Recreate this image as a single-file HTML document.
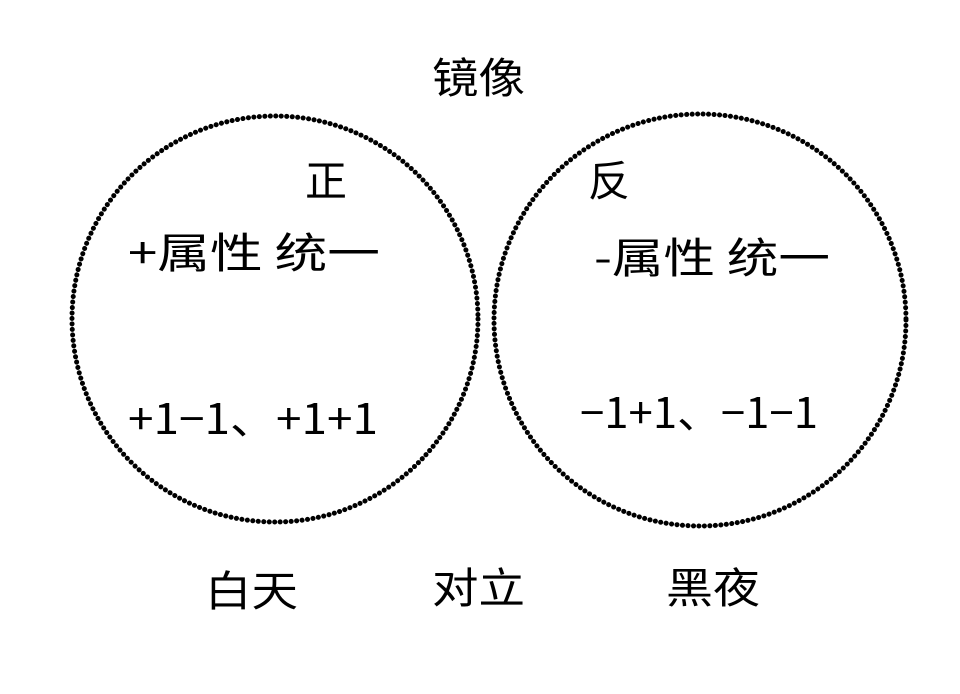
<!DOCTYPE html>
<html><head><meta charset="utf-8"><style>
body{margin:0;background:#fff;}
svg text{font-family:"Noto Sans CJK SC","Liberation Sans",sans-serif;font-size:42px;fill:#000;}
</style></head><body>
<svg width="960" height="689" viewBox="0 0 960 689">
<rect width="960" height="689" fill="#fff"/>
<circle cx="275" cy="319" r="203" fill="none" stroke="#000" stroke-width="5" stroke-dasharray="0.1 5.4" stroke-linecap="round"/>
<circle cx="700" cy="320" r="206" fill="none" stroke="#000" stroke-width="5" stroke-dasharray="0.1 5.4" stroke-linecap="round"/>
<text x="432" y="93" textLength="93" lengthAdjust="spacingAndGlyphs">镜像</text>
<text x="305" y="196">正</text>
<text x="588" y="196">反</text>
<text x="128" y="268" textLength="252" lengthAdjust="spacingAndGlyphs">+属性  统一</text>
<text x="594" y="273" textLength="236" lengthAdjust="spacingAndGlyphs">-属性  统一</text>
<text x="128" y="434" textLength="250" lengthAdjust="spacingAndGlyphs">+1−1、+1+1</text>
<text x="580" y="428" textLength="238" lengthAdjust="spacingAndGlyphs">−1+1、−1−1</text>
<text x="205" y="606" textLength="93" lengthAdjust="spacingAndGlyphs">白天</text>
<text x="432" y="603" textLength="93" lengthAdjust="spacingAndGlyphs">对立</text>
<text x="666" y="603" textLength="94" lengthAdjust="spacingAndGlyphs">黑夜</text>
</svg>
</body></html>
